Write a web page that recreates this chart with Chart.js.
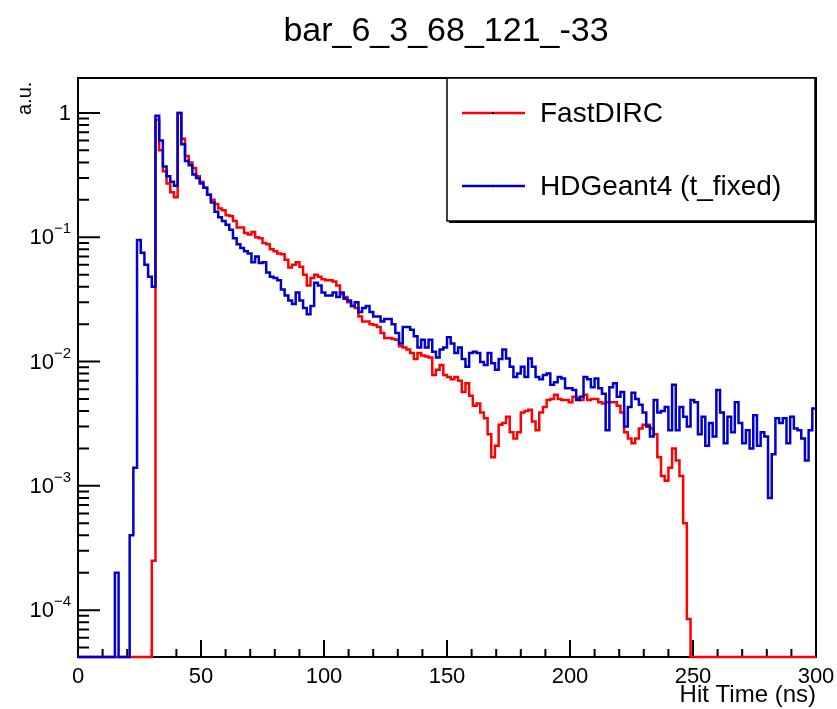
<!DOCTYPE html>
<html>
<head>
<meta charset="utf-8">
<script src="https://cdn.jsdelivr.net/npm/chart.js@4.4.1/dist/chart.umd.min.js"></script>
<style>
  html, body { margin: 0; padding: 0; background: #fff; }
  canvas { display: block; }
</style>
</head>
<body>
<canvas id="hitTime" width="837" height="709" style="width:837px;height:709px"></canvas>
<script>
// --- histogram binning (ns) ---
const binWidth = 1.5;
const xMin = 0, xMax = 300;

// --- FastDIRC, normalised counts per bin (200 bins, 0..300 ns) ---
const fastDirc = [
  0, 0, 0, 0, 0, 0, 0, 0, 0, 0,
  0, 0, 0, 0, 0, 0, 0, 0, 0, 0,
  2.5e-4, 0.88, 0.5, 0.34, 0.27, 0.23, 0.21, 1.0, 0.62, 0.45,
  0.40, 0.36, 0.31, 0.28, 0.25, 0.22, 0.2, 0.185, 0.17, 0.165,
  0.15, 0.148, 0.135, 0.12, 0.12, 0.108, 0.105, 0.11, 0.1, 0.098,
  0.09, 0.088, 0.08, 0.077, 0.074, 0.073, 0.066, 0.057, 0.06, 0.063,
  0.058, 0.05, 0.041, 0.047, 0.05, 0.048, 0.046, 0.045, 0.045, 0.044,
  0.041, 0.035, 0.033, 0.03, 0.028, 0.027, 0.023, 0.021, 0.021, 0.02,
  0.0197, 0.019, 0.017, 0.0155, 0.0155, 0.0152, 0.015, 0.0133, 0.013, 0.0125,
  0.0117, 0.0105, 0.0117, 0.0112, 0.011, 0.0108, 0.0078, 0.0086, 0.0094, 0.0078,
  0.0075, 0.0072, 0.0075, 0.007, 0.0057, 0.0067, 0.0053, 0.0044, 0.0046, 0.0039,
  0.0035, 0.0026, 0.0017, 0.0021, 0.0031, 0.0032, 0.0036, 0.0027, 0.0024, 0.0027,
  0.0039, 0.004, 0.0041, 0.0033, 0.0028, 0.0039, 0.0043, 0.0049, 0.005, 0.0054,
  0.005, 0.0049, 0.0049, 0.0047, 0.0052, 0.0051, 0.0049, 0.0054, 0.0049, 0.005,
  0.005, 0.0047, 0.0046, 0.0047, 0.0047, 0.0047, 0.0044, 0.0039, 0.0027, 0.0024,
  0.0022, 0.0024, 0.0029, 0.0031, 0.0031, 0.0029, 0.0026, 0.0017, 0.0012, 0.0011,
  0.0014, 0.002, 0.0016, 0.0012, 0.0005, 8.5e-5, 0, 0, 0, 0,
  0, 0, 0, 0, 0, 0, 0, 0, 0, 0,
  0, 0, 0, 0, 0, 0, 0, 0, 0, 0,
  0, 0, 0, 0, 0, 0, 0, 0, 0, 0
];

// --- HDGeant4 (t_fixed), normalised counts per bin ---
const hdGeant4 = [
  0, 0, 0, 0, 0, 0, 0, 0, 0, 0,
  2e-4, 0, 0, 0, 4e-4, 1.4e-3, 0.095, 0.075, 0.06, 0.048,
  0.04, 0.95, 0.6, 0.37, 0.31, 0.28, 0.26, 1.0, 0.56, 0.41,
  0.38, 0.32, 0.30, 0.27, 0.25, 0.22, 0.19, 0.16, 0.145, 0.135,
  0.126, 0.115, 0.098, 0.088, 0.082, 0.077, 0.074, 0.063, 0.07, 0.062,
  0.063, 0.052, 0.048, 0.047, 0.045, 0.038, 0.034, 0.031, 0.029, 0.036,
  0.031, 0.027, 0.024, 0.028, 0.043, 0.041, 0.036, 0.034, 0.034, 0.036,
  0.033, 0.036, 0.032, 0.031, 0.028, 0.03, 0.025, 0.027, 0.028, 0.025,
  0.023, 0.023, 0.021, 0.022, 0.022, 0.02, 0.017, 0.014, 0.019, 0.019,
  0.018, 0.016, 0.013, 0.015, 0.013, 0.015, 0.012, 0.0108, 0.0125, 0.013,
  0.0157, 0.014, 0.0117, 0.013, 0.0105, 0.0091, 0.0117, 0.012, 0.0117, 0.0099,
  0.0094, 0.0117, 0.0097, 0.0086, 0.0105, 0.0125, 0.0106, 0.0091, 0.0075, 0.008,
  0.0091, 0.0075, 0.0106, 0.0091, 0.0075, 0.0072, 0.0078, 0.008, 0.0065, 0.0068,
  0.0075, 0.0073, 0.0061, 0.0061, 0.0059, 0.0049, 0.0052, 0.0075, 0.0072, 0.0062,
  0.0073, 0.0061, 0.0055, 0.0028, 0.0062, 0.0067, 0.0052, 0.0057, 0.003, 0.0043,
  0.0056, 0.005, 0.0045, 0.0039, 0.003, 0.0025, 0.0049, 0.0039, 0.004, 0.0043,
  0.0028, 0.0065, 0.0028, 0.0043, 0.0036, 0.003, 0.0049, 0.0047, 0.0026, 0.0036,
  0.0021, 0.0032, 0.0025, 0.0059, 0.0039, 0.0022, 0.0036, 0.0027, 0.0047, 0.0032,
  0.0022, 0.0028, 0.002, 0.0037, 0.0021, 0.0027, 0.0025, 0.0008, 0.0018, 0.0035,
  0.0032, 0.0035, 0.0022, 0.0036, 0.0029, 0.0028, 0.0024, 0.0016, 0.0028, 0.0042
];

// --- axis range and tick labels ---
const yMin = 4.2e-5, yMax = 1.91;
const xTickValues = [0, 50, 100, 150, 200, 250, 300];
const yTickValues = [1, 0.1, 0.01, 0.001, 0.0001];
const yTickExponents = ["", "\u22121", "\u22122", "\u22123", "\u22124"];
const seriesNames = ["FastDIRC", "HDGeant4 (t_fixed)"];

const RED = "#ff0000";
const BLUE = "#0000cc";
const FONT = "'Liberation Sans', Arial, Helvetica, sans-serif";

// histogram -> step points (left bin edges + closing point); empty bins sit on the floor
function histPoints(vals) {
  const pts = vals.map((v, i) => ({ x: xMin + i * binWidth, y: v > 0 ? v : yMin }));
  const last = vals[vals.length - 1];
  pts.push({ x: xMax, y: last > 0 ? last : yMin });
  return pts;
}

// frame + ticks drawn under the histograms, like ROOT does
const rootFrame = {
  id: "rootFrame",
  beforeDatasetsDraw(chart) {
    const { ctx, chartArea: a, scales } = chart;
    const xs = scales.x, ys = scales.y;
    ctx.save();
    ctx.strokeStyle = "#000";
    ctx.lineWidth = 2;
    ctx.strokeRect(a.left, a.top, a.right - a.left, a.bottom - a.top);

    ctx.beginPath();
    // x ticks: major every 50, minor every 10
    for (let t = xMin; t <= xMax; t += 10) {
      const px = xs.getPixelForValue(t);
      const len = t % 50 === 0 ? 17 : 8;
      ctx.moveTo(px, a.bottom);
      ctx.lineTo(px, a.bottom - len);
    }
    // y ticks: decades + 2..9
    for (let e = -5; e <= 0; e++) {
      for (let k = 1; k <= 9; k++) {
        const v = k * Math.pow(10, e);
        if (v < yMin || v > yMax) continue;
        const py = ys.getPixelForValue(v);
        const len = k === 1 ? 22 : 11;
        ctx.moveTo(a.left, py);
        ctx.lineTo(a.left + len, py);
      }
    }
    ctx.stroke();
    ctx.restore();
  },
  afterDatasetsDraw(chart) {
    const { ctx, chartArea: a, scales } = chart;
    const xs = scales.x, ys = scales.y;
    ctx.save();
    ctx.fillStyle = "#000";

    // x tick labels
    ctx.font = "22px " + FONT;
    ctx.textAlign = "center";
    ctx.textBaseline = "middle";
    xTickValues.forEach(t => ctx.fillText(String(t), xs.getPixelForValue(t), a.bottom + 20));

    // y tick labels with superscript exponents
    yTickValues.forEach((v, i) => {
      const py = ys.getPixelForValue(v) + 1;
      const right = a.left - 7;
      const exp = yTickExponents[i];
      ctx.textBaseline = "middle";
      ctx.textAlign = "right";
      if (!exp) {
        ctx.font = "22px " + FONT;
        ctx.fillText("1", right, py);
        return;
      }
      ctx.font = "15px " + FONT;
      const ew = ctx.measureText(exp).width;
      ctx.fillText(exp, right, py - 9);
      ctx.font = "22px " + FONT;
      ctx.fillText("10", right - ew, py);
    });

    // axis titles
    ctx.font = "24px " + FONT;
    ctx.textAlign = "right";
    ctx.textBaseline = "middle";
    ctx.fillText("Hit Time (ns)", a.right, 695);
    ctx.save();
    ctx.translate(25, 115);
    ctx.rotate(-Math.PI / 2);
    ctx.font = "20px " + FONT;
    ctx.textAlign = "left";
    ctx.fillText("a.u.", 0, 0);
    ctx.restore();

    // title
    ctx.font = "34px " + FONT;
    ctx.textAlign = "center";
    ctx.textBaseline = "alphabetic";
    ctx.fillText("bar_6_3_68_121_-33", 446, 41);

    // legend box
    const lx = 447, ly = 78, lw = 368, lh = 143;
    ctx.fillStyle = "#fff";
    ctx.fillRect(lx, ly, lw, lh);
    ctx.strokeStyle = "#000";
    ctx.lineWidth = 1.5;
    ctx.strokeRect(lx, ly, lw, lh);
    ctx.lineWidth = 2;
    ctx.beginPath();
    ctx.moveTo(lx + 2, ly + lh + 1);
    ctx.lineTo(lx + lw + 1, ly + lh + 1);
    ctx.lineTo(lx + lw + 1, ly + 2);
    ctx.stroke();

    const rows = [113, 186];
    const cols = [RED, BLUE];
    rows.forEach((ry, i) => {
      ctx.strokeStyle = cols[i];
      ctx.lineWidth = 2.5;
      ctx.beginPath();
      ctx.moveTo(462, ry);
      ctx.lineTo(525, ry);
      ctx.stroke();
      ctx.fillStyle = "#000";
      ctx.fillRect(492, ry - 1, 2, 2);
      ctx.font = "28px " + FONT;
      ctx.textAlign = "left";
      ctx.textBaseline = "middle";
      ctx.fillText(seriesNames[i], 540, ry + 1);
    });
    ctx.restore();
  }
};

const chart = new Chart(document.getElementById("hitTime").getContext("2d"), {
  type: "line",
  data: {
    datasets: [
      {
        label: seriesNames[0],
        data: histPoints(fastDirc),
        borderColor: RED,
        borderWidth: 2.5,
        stepped: "before",
        pointRadius: 0,
        fill: false,
        clip: false,
        order: 1
      },
      {
        label: seriesNames[1],
        data: histPoints(hdGeant4),
        borderColor: BLUE,
        borderWidth: 2.5,
        stepped: "before",
        pointRadius: 0,
        fill: false,
        clip: false,
        order: 0
      }
    ]
  },
  options: {
    responsive: false,
    animation: false,
    devicePixelRatio: 1,
    layout: { padding: { left: 78, right: 21, top: 78, bottom: 52 } },
    plugins: { legend: { display: false }, tooltip: { enabled: false }, title: { display: false } },
    scales: {
      x: { type: "linear", min: xMin, max: xMax, display: false },
      y: { type: "logarithmic", min: yMin, max: yMax, display: false }
    }
  },
  plugins: [rootFrame]
});
</script>
</body>
</html>
